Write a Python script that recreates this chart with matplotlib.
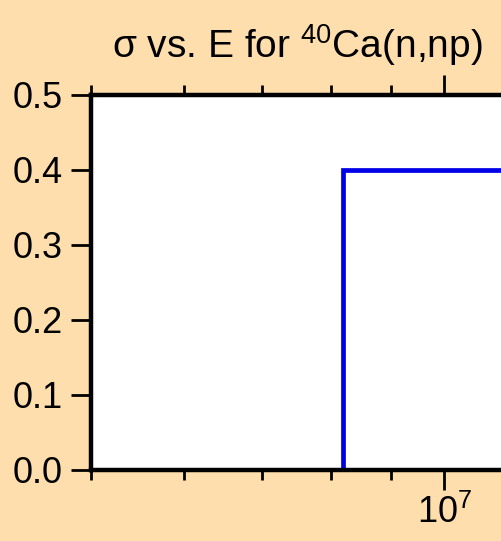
import math
import matplotlib
matplotlib.use("Agg")
import matplotlib.pyplot as plt
from matplotlib.ticker import LogLocator, NullFormatter, LogFormatterSciNotation

plt.rcParams['font.family'] = ['Liberation Sans', 'DejaVu Sans']
plt.rcParams['mathtext.fontset'] = 'custom'
plt.rcParams['mathtext.rm'] = 'Liberation Sans'
plt.rcParams['mathtext.it'] = 'Liberation Sans:italic'
plt.rcParams['mathtext.bf'] = 'Liberation Sans:bold'

# Data
energy = [8.19e6, 8.19e6, 2.0e7]
sigma = [0.0, 0.4, 0.4]
y_ticks = [0.0, 0.1, 0.2, 0.3, 0.4, 0.5]
title = 'σ vs. E for $^{40}$Ca(n,np)'

bg = '#FFDEAD'
W, H = 501, 541
fig = plt.figure(figsize=(W / 100, H / 100), dpi=100, facecolor=bg)

xmin, xmax = 5e6, 2e7
px_per_dec = 1173.6
left_px = 91
right_px = left_px + px_per_dec * math.log10(xmax / xmin)
top_px, bot_px = 95, 469.5
ax = fig.add_axes([left_px / W, (H - bot_px) / H, (right_px - left_px) / W, (bot_px - top_px) / H])
ax.set_facecolor('white')

ax.plot(energy, sigma, color='#0000E6', lw=3.4, solid_joinstyle='miter', clip_on=True)

ax.set_xscale('log')
ax.set_xlim(xmin, xmax)
ax.set_ylim(0, 0.5)
ax.set_yticks(y_ticks)
ax.set_yticklabels([f'{v:.1f}' for v in y_ticks])

ax.xaxis.set_major_locator(LogLocator(base=10, numticks=10))
ax.xaxis.set_minor_locator(LogLocator(base=10, subs=range(2, 10), numticks=20))
ax.xaxis.set_major_formatter(LogFormatterSciNotation())
ax.xaxis.set_minor_formatter(NullFormatter())

for s in ax.spines.values():
    s.set_linewidth(3.2)
    s.set_color('black')

ax.tick_params(axis='y', which='major', direction='out', length=14.5, width=2,
               labelsize=26, pad=6, left=True, right=False, colors='black')
ax.tick_params(axis='x', which='major', direction='out', length=14.5, width=2,
               labelsize=26, pad=4, top=True, bottom=True, colors='black')
ax.tick_params(axis='x', which='minor', direction='out', length=7, width=2,
               top=True, bottom=True, colors='black')

fig.text(297 / W, 1 - 45 / H, title, ha='center', va='center', fontsize=28, color='black')

fig.savefig('out.png', dpi=100, facecolor=bg)
